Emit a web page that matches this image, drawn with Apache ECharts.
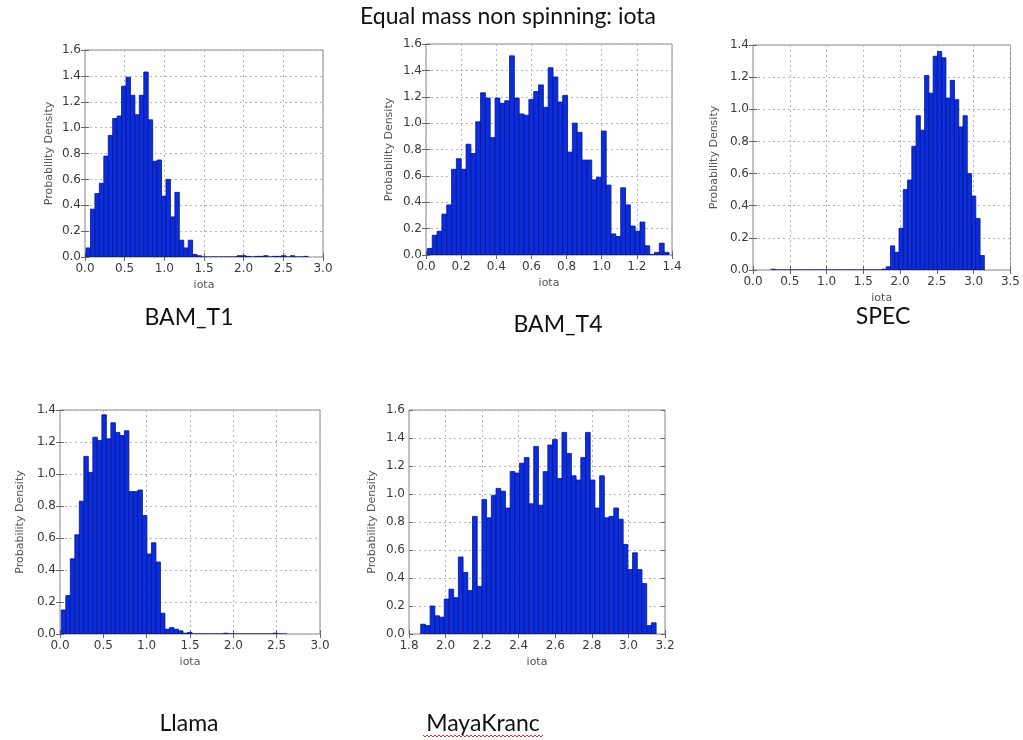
<!DOCTYPE html>
<html>
<head>
<meta charset="utf-8">
<script src="https://cdn.jsdelivr.net/npm/echarts@6/dist/echarts.min.js"></script>
<style>
  html, body { margin: 0; padding: 0; background: #ffffff; }
  #chart { width: 1023px; height: 740px; }
</style>
</head>
<body>
<div id="chart"></div>
<script>
// Posterior histograms of iota (normalised probability density) for each code.
const panelNames = ['BAM_T1', 'BAM_T4', 'SPEC', 'Llama', 'MayaKranc'];

// Histogram bin layout per code: first bin edge and bin width (50 bins each)
const binStart = [0.013, 0.008, 0.245, 0.015, 1.864];
const binWidth = [0.056, 0.0275, 0.058, 0.052, 0.02575];

// Bin heights (probability density)
const densBAM_T1 = [
  0.07, 0.37, 0.49, 0.57, 0.78, 0.94, 1.07, 1.09, 1.32, 1.39,
  1.25, 1.10, 1.25, 1.43, 1.06, 0.74, 0.75, 0.47, 0.60, 0.31,
  0.50, 0.13, 0.07, 0.13, 0.02, 0.01, 0, 0, 0, 0,
  0, 0, 0, 0, 0.01, 0.01, 0.005, 0, 0.005, 0.005,
  0.01, 0, 0.005, 0.005, 0.01, 0, 0.01, 0, 0, 0.005
];
const densBAM_T4 = [
  0.05, 0.15, 0.18, 0.31, 0.38, 0.65, 0.73, 0.65, 0.84, 0.77,
  1.01, 1.23, 1.19, 0.89, 1.19, 1.15, 1.17, 1.51, 1.19, 1.07,
  1.06, 1.18, 1.24, 1.29, 1.12, 1.42, 1.35, 1.16, 1.21, 0.78,
  1.00, 0.93, 0.72, 0.72, 0.57, 0.59, 0.94, 0.53, 0.16, 0.14,
  0.51, 0.38, 0.22, 0.18, 0.25, 0.07, 0.005, 0.02, 0.09, 0.02
];
const densSPEC = [
  0.005, 0, 0, 0, 0, 0, 0, 0, 0, 0,
  0, 0, 0, 0, 0, 0, 0, 0, 0, 0,
  0, 0, 0, 0, 0, 0, 0.005, 0.02, 0.15, 0.11,
  0.26, 0.50, 0.56, 0.77, 0.96, 0.87, 1.21, 1.10, 1.33, 1.36,
  1.32, 1.07, 1.18, 1.06, 0.89, 0.96, 0.60, 0.46, 0.32, 0.09
];
const densLlama = [
  0.15, 0.24, 0.47, 0.62, 0.83, 1.11, 1.01, 1.23, 1.21, 1.37,
  1.22, 1.32, 1.26, 1.24, 1.27, 0.89, 0.89, 0.90, 0.74, 0.50,
  0.57, 0.45, 0.13, 0.03, 0.04, 0.03, 0.02, 0.005, 0.01, 0,
  0, 0, 0, 0, 0, 0, 0.005, 0, 0, 0,
  0, 0, 0, 0, 0, 0, 0, 0.005, 0, 0
];
const densMayaKranc = [
  0.07, 0.06, 0.20, 0.13, 0.12, 0.25, 0.32, 0.26, 0.55, 0.44,
  0.31, 0.84, 0.34, 0.96, 0.83, 0.99, 1.04, 1.02, 0.90, 1.16,
  1.15, 1.22, 1.26, 0.93, 1.34, 0.92, 1.16, 1.35, 1.39, 1.11,
  1.44, 1.29, 1.13, 1.10, 1.26, 1.44, 1.10, 0.90, 1.13, 0.83,
  0.84, 0.90, 0.82, 0.64, 0.46, 0.58, 0.46, 0.36, 0.06, 0.08
];
const densities = [densBAM_T1, densBAM_T4, densSPEC, densLlama, densMayaKranc];

// Axis ranges and tick steps
const xMin = [0, 0, 0, 0, 1.8];
const xMax = [3.0, 1.4, 3.5, 3.0, 3.2];
const xStep = [0.5, 0.2, 0.5, 0.5, 0.2];
const yMax = [1.6, 1.6, 1.4, 1.4, 1.6];
const yStep = [0.2, 0.2, 0.2, 0.2, 0.2];

// Plot boxes (px)
const boxes = [
  { left: 85,  top: 50,  width: 238, height: 207 },
  { left: 426, top: 44,  width: 246, height: 211 },
  { left: 753, top: 45,  width: 258, height: 225 },
  { left: 60,  top: 410, width: 260, height: 224 },
  { left: 409, top: 410, width: 256, height: 224 }
];
const yNameGap = [30, 31, 33, 34, 31];

const tickFont = { fontFamily: 'DejaVu Sans', fontSize: 12, color: '#3a3a3a' };
const fmt = v => Number(v).toFixed(1);

const grid = [], xAxis = [], yAxis = [], series = [];

boxes.forEach((b, i) => {
  grid.push(Object.assign({ show: true, borderColor: '#8a8a8a', borderWidth: 1, backgroundColor: '#fff' }, b));
  const tick = { show: true, inside: true, length: 4, lineStyle: { color: '#666' } };
  // bottom x axis
  xAxis.push({
    type: 'value', gridIndex: i, min: xMin[i], max: xMax[i], interval: xStep[i],
    position: 'bottom',
    axisLine: { show: false }, axisTick: tick,
    axisLabel: Object.assign({ formatter: fmt, margin: 6, showMinLabel: true, showMaxLabel: true }, tickFont),
    splitLine: { show: true, lineStyle: { type: [2, 3], color: '#b5b5b5', width: 1 } },
    name: 'iota', nameLocation: 'middle', nameGap: 23,
    nameTextStyle: { fontFamily: 'DejaVu Sans', fontSize: 11, color: '#555' }
  });
  // top x axis (ticks only)
  xAxis.push({
    type: 'value', gridIndex: i, min: xMin[i], max: xMax[i], interval: xStep[i],
    position: 'top', axisLine: { show: false }, axisTick: tick,
    axisLabel: { show: false }, splitLine: { show: false }
  });
  // left y axis
  yAxis.push({
    type: 'value', gridIndex: i, min: 0, max: yMax[i], interval: yStep[i],
    position: 'left',
    axisLine: { show: false }, axisTick: tick,
    axisLabel: Object.assign({ formatter: fmt, margin: 4, showMinLabel: true, showMaxLabel: true }, tickFont),
    splitLine: { show: true, lineStyle: { type: [2, 3], color: '#b5b5b5', width: 1 } },
    name: 'Probability Density', nameLocation: 'middle', nameGap: yNameGap[i],
    nameTextStyle: { fontFamily: 'DejaVu Sans', fontSize: 11, color: '#555' }
  });
  // right y axis (ticks only)
  yAxis.push({
    type: 'value', gridIndex: i, min: 0, max: yMax[i], interval: yStep[i],
    position: 'right', axisLine: { show: false }, axisTick: tick,
    axisLabel: { show: false }, splitLine: { show: false }
  });

  // histogram bins: [left edge, right edge, density]
  const bins = densities[i].map((d, k) => {
    const lo = binStart[i] + k * binWidth[i];
    return [lo, lo + binWidth[i], d];
  });

  series.push({
    type: 'custom',
    name: panelNames[i],
    xAxisIndex: 2 * i,
    yAxisIndex: 2 * i,
    clip: true,
    data: bins,
    encode: { x: [0, 1], y: 2 },
    renderItem: function (params, api) {
      const topLeft = api.coord([api.value(0), api.value(2)]);
      const bottomRight = api.coord([api.value(1), 0]);
      return {
        type: 'rect',
        shape: {
          x: topLeft[0], y: topLeft[1],
          width: bottomRight[0] - topLeft[0],
          height: bottomRight[1] - topLeft[1]
        },
        style: { fill: '#0a2de2', stroke: '#07157a', lineWidth: 0.8 }
      };
    }
  });
});

const labelFont = '"Lato", "Open Sans", sans-serif';
const panelLabelPos = [[189, 318], [558, 325], [883, 317], [189, 724], [483, 724]];

const graphic = [
  {
    type: 'text', x: 508, y: 17,
    style: { text: 'Equal mass non spinning: iota', font: '23px ' + labelFont, fill: '#111', align: 'center', verticalAlign: 'middle' }
  }
];
panelNames.forEach((n, i) => {
  graphic.push({
    type: 'text', x: panelLabelPos[i][0], y: panelLabelPos[i][1],
    style: { text: n, font: '23px ' + labelFont, fill: '#111', align: 'center', verticalAlign: 'middle' }
  });
});
// wavy spell-check underline beneath "MayaKranc"
const wave = [];
for (let x = 423; x <= 543; x += 2) {
  wave.push([x, 736 + ((x - 423) / 2 % 2 === 0 ? -1 : 1)]);
}
graphic.push({
  type: 'polyline', shape: { points: wave },
  style: { stroke: '#e23030', lineWidth: 1, fill: null }
});

const chart = echarts.init(document.getElementById('chart'), null, { renderer: 'canvas' });
chart.setOption({
  backgroundColor: '#ffffff',
  animation: false,
  grid: grid,
  xAxis: xAxis,
  yAxis: yAxis,
  series: series,
  graphic: graphic
});
</script>
</body>
</html>
